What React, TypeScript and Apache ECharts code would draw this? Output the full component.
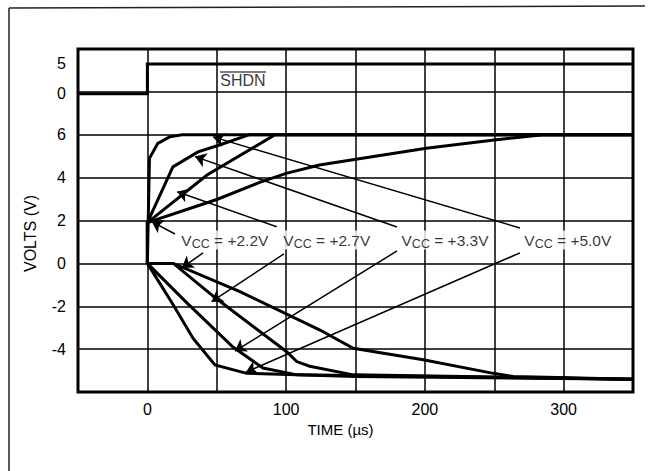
import React, { useEffect, useRef } from "react";
import * as echarts from "echarts";

// ---------- data ----------
const xTickLabels = [0, 100, 200, 300];
const voltTickLabels = [-4, -2, 0, 2, 4, 6];
const shdnTickLabels = [0, 5];

const vccNames = ["+2.2V", "+2.7V", "+3.3V", "+5.0V"];

// SHDN control input (on its own 0..5 scale)
const shdnTrace = [[-50, 0], [0, 0], [0, 5], [350, 5]];

// positive output (rising to +6V)
const rise22 = [[0, 0], [0, 1.9], [50, 2.98], [81, 3.78], [100, 4.2], [124, 4.59], [201, 5.37], [250, 5.76], [285, 6.0], [350, 6.0]];
const rise27 = [[0, 0], [0, 1.9], [43, 4.12], [92, 6.0], [350, 6.0]];
const rise33 = [[0, 0], [0, 1.9], [18.4, 4.5], [36.5, 5.2], [52, 5.52], [69, 5.9], [73, 6.0], [350, 6.0]];
const rise50 = [[0, 0], [1.5, 4.9], [7.5, 5.6], [16, 5.9], [25, 6.0], [350, 6.0]];

// negative output (falling to about -5.4V)
const fall22 = [[0, 0], [18.7, 0], [66.7, -1.32], [124.4, -3.11], [148.4, -3.96], [198.8, -4.5], [249.3, -5.13], [263.7, -5.28], [350, -5.4]];
const fall27 = [[0, 0], [18.7, 0], [49.4, -1.63], [100.4, -4.12], [107.6, -4.58], [117, -4.8], [148.4, -5.2], [350, -5.4]];
const fall33 = [[0, 0], [28.5, -1.84], [61.7, -3.9], [83.3, -4.88], [107.8, -5.2], [350, -5.4]];
const fall50 = [[0, 0], [18.7, -1.94], [33, -3.5], [48.7, -4.74], [71.6, -5.13], [150, -5.28], [350, -5.4]];

// pointer lines from labels: [tail, tip]
const pointersUp = [
  [[19.9, 1.37], [3.1, 1.95]],
  [[93.2, 1.71], [21.5, 3.34]],
  [[179.9, 1.7], [34.3, 4.98]],
  [[268.5, 1.65], [47.3, 5.9]],
];
const pointersDown = [
  [[40.1, 0.49], [24.9, -0.21]],
  [[98.4, 0.44], [46.3, -1.79]],
  [[179.9, 0.58], [63.1, -4.09]],
  [[268.5, 0.49], [71.1, -5.07]],
];

// label anchors (left edge, vertical middle)
const labelX = [23.4, 96.9, 182.1, 270.6];
const labelY = 1.09;
const shdnLabelPos = [68.9, 2.3];

const FONT = "'Liberation Sans', Arial, Helvetica, sans-serif";

export default function App() {
  const ref = useRef<HTMLDivElement>(null);
  useEffect(() => {
    if (!ref.current) return;
    const chart = echarts.init(ref.current, null, { renderer: "svg" });
    const curve = (name: string, data: number[][], yIdx = 0) => ({
      name,
      type: "line",
      yAxisIndex: yIdx,
      data,
      symbol: "none",
      showSymbol: false,
      silent: true,
      z: 3,
      lineStyle: { color: "#000", width: 3, join: "miter" },
    });
    const option: any = {
      animation: false,
      backgroundColor: "#fff",
      textStyle: { fontFamily: FONT, color: "#000" },
      grid: {
        show: true,
        left: 78,
        right: 16,
        top: 49,
        bottom: 79,
        borderColor: "#000",
        borderWidth: 3,
        containLabel: false,
      },
      xAxis: {
        type: "value",
        min: -50,
        max: 350,
        interval: 50,
        name: "TIME (µs)",
        nameLocation: "middle",
        nameGap: 30,
        nameTextStyle: { fontSize: 15, fontFamily: FONT, color: "#000", padding: [0, 30, 0, 0] },
        axisLine: { show: false },
        axisTick: { show: false },
        axisLabel: {
          margin: 9,
          fontSize: 16,
          fontFamily: FONT,
          color: "#000",
          formatter: (v: number) => (xTickLabels.includes(v) ? String(v) : ""),
        },
        splitLine: { show: true, lineStyle: { color: "#000", width: 1.5 } },
      },
      yAxis: [
        {
          type: "value",
          min: -6,
          max: 10,
          interval: 2,
          name: "VOLTS (V)",
          nameLocation: "middle",
          nameGap: 40,
          nameTextStyle: { fontSize: 16, fontFamily: FONT, color: "#000", padding: [0, 26, 0, 0] },
          axisLine: { show: false },
          axisTick: { show: false },
          axisLabel: {
            margin: 12,
            fontSize: 16,
            fontFamily: FONT,
            color: "#000",
            formatter: (v: number) => (voltTickLabels.includes(v) ? String(v) : ""),
          },
          splitLine: { show: true, lineStyle: { color: "#000", width: 1.5 } },
        },
        {
          type: "value",
          position: "left",
          min: -50,
          max: 7.5,
          interval: 2.5,
          axisLine: { show: false },
          axisTick: { show: false },
          splitLine: { show: false },
          axisLabel: {
            margin: 12,
            fontSize: 16,
            fontFamily: FONT,
            color: "#000",
            formatter: (v: number) => (shdnTickLabels.includes(v) ? String(v) : ""),
          },
        },
      ],
      series: [
        curve("SHDN", shdnTrace, 1),
        curve("V+ VCC=+2.2V", rise22),
        curve("V+ VCC=+2.7V", rise27),
        curve("V+ VCC=+3.3V", rise33),
        curve("V+ VCC=+5.0V", rise50),
        curve("V- VCC=+2.2V", fall22),
        curve("V- VCC=+2.7V", fall27),
        curve("V- VCC=+3.3V", fall33),
        curve("V- VCC=+5.0V", fall50),
        {
          type: "lines",
          coordinateSystem: "cartesian2d",
          silent: true,
          z: 4,
          symbol: ["none", "arrow"],
          symbolSize: 11,
          lineStyle: { color: "#000", width: 1.5, opacity: 1 },
          data: [...pointersUp, ...pointersDown].map((p) => ({ coords: p })),
        },
        {
          type: "scatter",
          silent: true,
          z: 5,
          symbolSize: 1,
          itemStyle: { color: "rgba(0,0,0,0)" },
          data: labelX.map((x, i) => ({ value: [x, labelY], name: vccNames[i] })),
          label: {
            show: true,
            position: "right",
            distance: 0,
            formatter: (p: any) => `{v|V}{s|CC}{t| = ${p.name}}`,
            backgroundColor: "#fff",
            padding: [1, 1, 1, 1],
            rich: {
              v: { fontSize: 15.5, fontFamily: FONT, color: "#000", lineHeight: 17, verticalAlign: "middle" },
              s: { fontSize: 12.5, fontFamily: FONT, color: "#000", lineHeight: 13, padding: [7, 0, 0, 0], verticalAlign: "middle" },
              t: { fontSize: 15.5, fontFamily: FONT, color: "#000", lineHeight: 17, verticalAlign: "middle" },
            },
          },
        },
        {
          type: "scatter",
          yAxisIndex: 1,
          silent: true,
          z: 5,
          symbolSize: 1,
          itemStyle: { color: "rgba(0,0,0,0)" },
          data: [{ value: shdnLabelPos, name: "SHDN" }],
          label: {
            show: true,
            position: "inside",
            formatter: "SHDN",
            fontSize: 16,
            fontFamily: FONT,
            color: "#000",
          },
        },
      ],
    };
    chart.setOption(option);
    const c = chart.convertToPixel({ xAxisIndex: 0, yAxisIndex: 1 }, shdnLabelPos) as number[];
    chart.setOption({
      graphic: [
        { type: "line", silent: true, shape: { x1: 9, y1: 8, x2: 9, y2: 471 }, style: { stroke: "#222", lineWidth: 1.5 } },
        { type: "line", silent: true, shape: { x1: 9, y1: 8, x2: 645, y2: 6 }, style: { stroke: "#222", lineWidth: 1.5 } },
        { type: "line", silent: true, z: 10, shape: { x1: c[0] - 23, y1: c[1] - 8, x2: c[0] + 23, y2: c[1] - 8 }, style: { stroke: "#000", lineWidth: 1.2 } },
      ],
    });
    return () => chart.dispose();
  }, []);
  return <div ref={ref} style={{ position: "fixed", left: 0, top: 0, width: 649, height: 471, background: "#fff" }} />;
}
